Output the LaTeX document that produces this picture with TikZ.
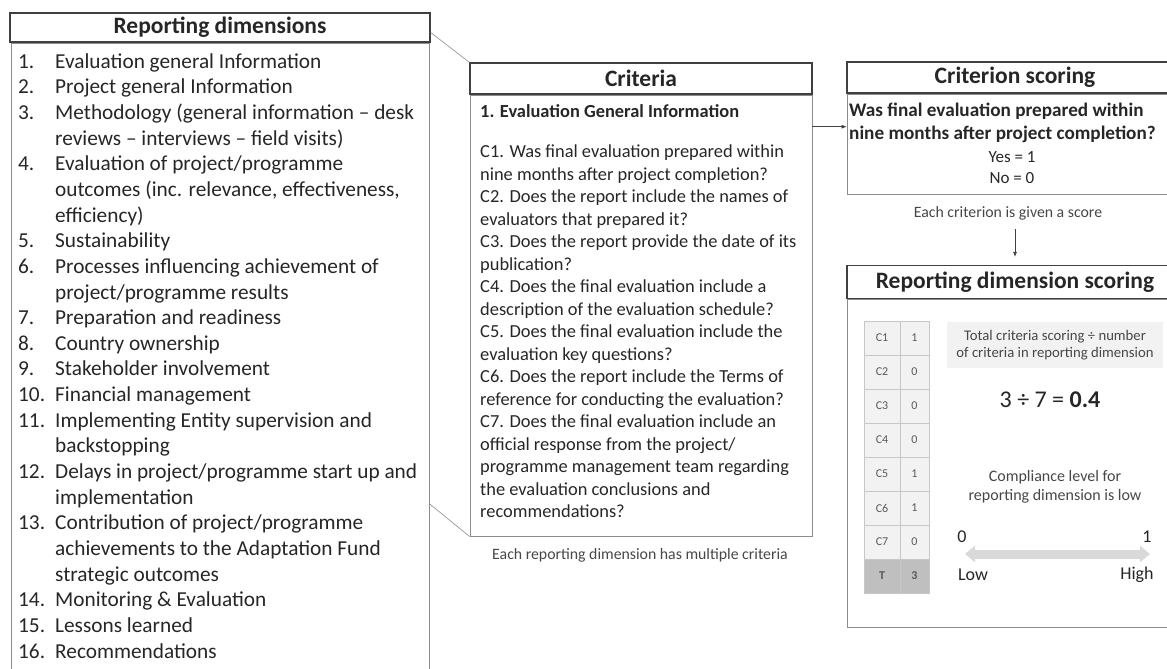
\documentclass[tikz,border=0pt]{standalone}
\usepackage{fontspec}
\setmainfont{Carlito}
\usetikzlibrary{arrows.meta, positioning, calc}
\definecolor{hdline}{HTML}{404040}
\definecolor{bdline}{HTML}{8C8C8C}
\definecolor{txt}{HTML}{262626}
\definecolor{cellfill}{HTML}{F2F2F2}
\definecolor{cellline}{HTML}{C8C8C8}
\definecolor{totfill}{HTML}{BFBFBF}
\definecolor{celltxt}{HTML}{595959}
\definecolor{scalefill}{HTML}{D9D9D9}
\DeclareRobustCommand{\listfont}{\fontsize{21.3}{25.65}\selectfont}
\DeclareRobustCommand{\critfont}{\fontsize{18.4}{22.5}\selectfont}

\begin{document}
\begin{tikzpicture}[x=1pt, y=-1pt,
    head/.style={draw=hdline, line width=1.4pt, minimum height=30pt, inner sep=0pt, font=\fontsize{23.5}{27}\selectfont\bfseries, text=txt},
    body/.style={draw=bdline, line width=0.8pt, inner sep=0pt},
    note/.style={font=\fontsize{15.8}{18}\selectfont, text=txt!85!white, align=center, inner sep=0pt},
    cell/.style={draw=cellline, fill=cellfill, minimum height=34pt, inner sep=0pt, font=\fontsize{12}{14}\selectfont, text=celltxt},
    arr/.style={-{Latex[length=5pt, width=4pt]}, draw=hdline, line width=0.6pt},
    link/.style={draw=bdline, line width=0.6pt}
]
\useasboundingbox (0,0) rectangle (1167,669);
\clip (0,0) rectangle (1167,669);

% headers
\node[head, minimum width=420pt, minimum height=29pt] (dimhead) at (220,27.5) {Reporting dimensions};
\node[head, minimum width=342pt, minimum height=31pt] (crithead) at (641,78.5) {Criteria};
\node[head, minimum width=336pt, minimum height=31pt] (csehead) at (1015,77.5) {Criterion scoring};
\node[head, minimum width=336pt, minimum height=33pt] (rdhead) at (1015,282) {Reporting dimension scoring};

% bodies
\node[body, minimum width=418pt, minimum height=640pt, below=0pt of dimhead] (dimbody) {};
\node[body, minimum width=342pt, minimum height=441pt, below=0pt of crithead] (critbody) {};
\node[body, minimum width=336pt, minimum height=100pt, below=0pt of csehead] (csebody) {};
\node[body, minimum width=336pt, minimum height=328pt, below=0pt of rdhead] (rdbody) {};

% reporting dimensions list
\node[anchor=north west, inner sep=0pt, text=txt, font=\listfont] (dimlist) at (18,50) {%
\begin{tabular}{@{}p{37pt}@{}l@{}}
1. & Evaluation general Information\\
2. & Project general Information\\
3. & Methodology (general information -- desk\\
   & reviews -- interviews -- field visits)\\
4. & Evaluation of project/programme\\
   & outcomes (inc. relevance, effectiveness,\\
   & efficiency)\\
5. & Sustainability\\
6. & Processes influencing achievement of\\
   & project/programme results\\
7. & Preparation and readiness\\
8. & Country ownership\\
9. & Stakeholder involvement\\
10. & Financial management\\
11. & Implementing Entity supervision and\\
    & backstopping\\
12. & Delays in project/programme start up and\\
    & implementation\\
13. & Contribution of project/programme\\
    & achievements to the Adaptation Fund\\
    & strategic outcomes\\
14. & Monitoring \& Evaluation\\
15. & Lessons learned\\
16. & Recommendations
\end{tabular}};

% criteria list
\node[anchor=north west, inner sep=0pt, text=txt, font=\critfont] (critlist) at (480,102) {%
\begin{tabular}{@{}l@{}}
\textbf{1. Evaluation General Information}\\[17.5pt]
C1. Was final evaluation prepared within\\
nine months after project completion?\\
C2. Does the report include the names of\\
evaluators that prepared it?\\
C3. Does the report provide the date of its\\
publication?\\
C4. Does the final evaluation include a\\
description of the evaluation schedule?\\
C5. Does the final evaluation include the\\
evaluation key questions?\\
C6. Does the report include the Terms of\\
reference for conducting the evaluation?\\
C7. Does the final evaluation include an\\
official response from the project/\\
programme management team regarding\\
the evaluation conclusions and\\
recommendations?
\end{tabular}};
\node[note] (capcrit) at (640,555) {Each reporting dimension has multiple criteria};

% criterion scoring
\node[anchor=north west, inner sep=0pt, text=txt, font=\fontsize{19.2}{23}\selectfont\bfseries] (question) at (849,100) {%
\begin{tabular}{@{}l@{}}
Was final evaluation prepared within\\
nine months after project completion?
\end{tabular}};
\node[align=center, inner sep=0pt, text=txt, font=\fontsize{17}{21}\selectfont] (yesno) at (1012,167.5) {Yes = 1\\No = 0};
\node[note] (capscore) at (1008,213) {Each criterion is given a score};

% scoring table
\foreach \v [count=\i] in {1,0,0,0,1,1,0} {
  \node[cell, minimum width=36pt] (c\i) at (882,304+34*\i) {C\i};
  \node[cell, minimum width=29pt] (s\i) at (914.5,304+34*\i) {\v};
}
\node[cell, fill=totfill, minimum width=36pt, font=\fontsize{12}{14}\selectfont\bfseries] (ct) at (882,576) {T};
\node[cell, fill=totfill, minimum width=29pt, font=\fontsize{12}{14}\selectfont\bfseries] (st) at (914.5,576) {3};

\node[note, fill=cellfill, font=\fontsize{14.7}{17}\selectfont, minimum width=216pt, minimum height=46pt] (totbox) at (1055,345) {Total criteria scoring ÷ number\\of criteria in reporting dimension};
\node[inner sep=0pt, text=txt, font=\fontsize{24}{28}\selectfont] (ratio) at (1050,400) {3 ÷ 7 = \textbf{0.4}};
\node[note, font=\fontsize{16}{19}\selectfont] (compl) at (1055,486.5) {Compliance level for\\reporting dimension is low};

% scale
\node[inner sep=0pt, text=txt, font=\fontsize{18}{20}\selectfont] (zerolbl) at (962,537) {0};
\node[inner sep=0pt, text=txt, font=\fontsize{18}{20}\selectfont] (onelbl) at (1147,537) {1};
\node[inner sep=0pt, text=txt, font=\fontsize{18}{20}\selectfont] (lowlbl) at (973,575) {Low};
\node[inner sep=0pt, text=txt, font=\fontsize{18}{20}\selectfont] (highlbl) at (1137,575) {High};
\coordinate (scl0) at (965,554);
\coordinate (scl1) at (1150,554);
\draw[line width=9pt, draw=scalefill, {Triangle[length=10pt, width=16pt]}-{Triangle[length=10pt, width=16pt]}] (scl0) -- (scl1);

% connectors
\draw[link] ([yshift=-5pt]dimhead.east) -- (crithead.north west);
\draw[link] ($(dimbody.north east)+(0,461)$) -- (critbody.south west);
\draw[arr] ([yshift=-32pt]critbody.north east) -- ([yshift=-32pt]critbody.north east -| csebody.west);
\draw[arr, shorten <=9pt, shorten >=8pt] (capscore.south -| rdhead.north) -- (rdhead.north);
\end{tikzpicture}
\end{document}
